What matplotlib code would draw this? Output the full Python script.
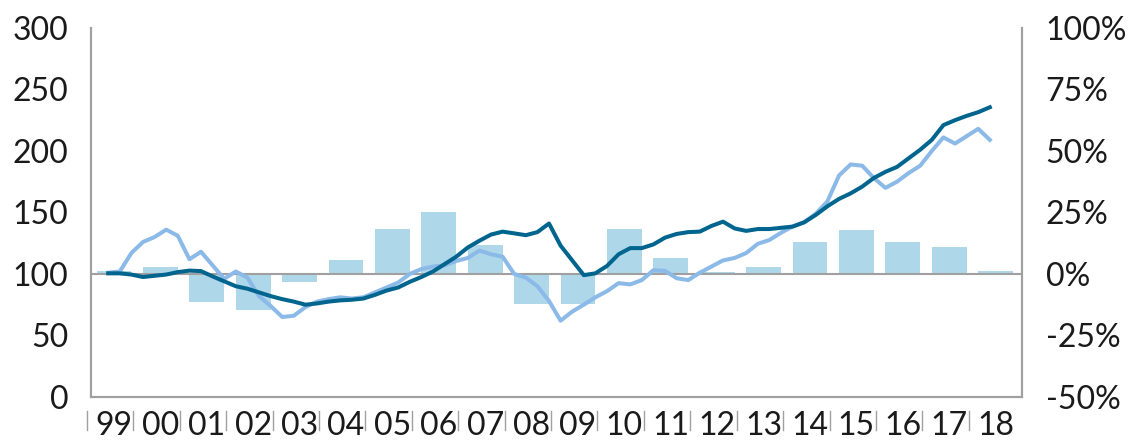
import pandas as pd
import matplotlib
matplotlib.use('Agg')
import matplotlib.pyplot as plt
import matplotlib.transforms as mtransforms
from matplotlib.ticker import FuncFormatter

plt.rcParams['font.family'] = ['Lato', 'DejaVu Sans']

# annual change (%), right axis
years = list(range(1999, 2019))
year_labels = ['99', '00', '01', '02', '03', '04', '05', '06', '07', '08',
               '09', '10', '11', '12', '13', '14', '15', '16', '17', '18']
annual_pct = [1.2, 3, -11.5, -14.5, -3.3, 5.7, 18.3, 25.2, 11.8, -12.2,
              -12.2, 18.3, 6.5, 0.8, 3, 13, 18, 13, 11, 1.2]

# quarterly index values, left axis (1999Q2 .. 2018Q2)
quarters = pd.period_range('1999Q2', '2018Q2', freq='Q')
dark_index = [100.5, 100.5, 99.5, 97.5, 98.5, 99.5, 101.5, 102.7, 102.3, 98,
              94, 90, 88, 85, 82, 79.5, 77.5, 75, 76, 77.5,
              78.5, 79, 80, 83, 86.5, 89, 93.6, 97.5, 102, 108,
              114, 121.5, 127, 132, 134.4, 133, 131.5, 134, 141, 123,
              111, 99, 100.5, 106.5, 116, 121, 121, 124, 129.5, 132.5,
              134, 134.4, 139, 142.5, 137, 135, 136.5, 136.5, 137.5, 138.5,
              142, 148, 155, 161, 165.5, 171, 178, 183, 187, 194,
              201, 209, 221, 225, 228.5, 231.5, 235.5]
light_index = [101, 102, 117, 126, 130, 136, 131, 112, 118, 107,
               96, 102, 97, 82, 74, 65, 66, 73, 77.5, 79.5,
               81, 80, 81, 85, 89, 93, 100, 104, 106, 107,
               110.5, 113, 119, 116, 114, 100, 97, 90, 78, 62,
               69.4, 75, 81, 86, 92.5, 91.5, 95, 103, 102.5, 96.5,
               95, 101, 106, 111, 113, 117, 124.5, 127.6, 133.5, 138.5,
               142, 149, 159, 180, 189, 188, 178, 170, 175, 182,
               188, 200, 211, 206, 212, 218, 209]

dates = [q.year + (q.quarter - 1) / 4 + 0.125 for q in quarters]

dark_col = '#00658E'
light_col = '#8CBAE8'
bar_col = '#AED8EA'
axis_col = '#A0A0A0'

fig = plt.figure(figsize=(11.35, 4.47), dpi=100)
ax = fig.add_axes([0.080, 0.112, 0.8205, 0.8255])
ax2 = ax.twinx()
ax.set_zorder(ax2.get_zorder() + 1)
ax.patch.set_visible(False)

# bars on the percent axis
ax2.bar([y + 0.5 for y in years], annual_pct, width=0.75, color=bar_col, zorder=1)
ax2.set_ylim(-50, 100)
ax2.set_yticks([-50, -25, 0, 25, 50, 75, 100])
ax2.yaxis.set_major_formatter(FuncFormatter(lambda v, p: f'{v:.0f}%'))

# index lines
ax.axhline(100, color=axis_col, lw=1.5, zorder=1)
ax.plot(dates, light_index, color=light_col, lw=2.9, zorder=2)
ax.plot(dates, dark_index, color=dark_col, lw=2.9, zorder=3)
ax.set_ylim(0, 300)
ax.set_yticks(range(0, 301, 50))
ax.set_xlim(1999, 2019.07)
ax.set_xticks([y + 0.5 for y in years])
ax.set_xticklabels(year_labels)

for a in (ax, ax2):
    a.spines['top'].set_visible(False)
    for s in ('left', 'right', 'bottom'):
        a.spines[s].set_color(axis_col)
        a.spines[s].set_linewidth(1.5)

ax.tick_params(axis='y', length=0, pad=16, labelsize=23, labelcolor='#1a1a1a')
ax.tick_params(axis='x', length=0, pad=10, labelsize=23, labelcolor='#1a1a1a')
ax2.tick_params(axis='y', length=0, pad=17, labelsize=23, labelcolor='#1a1a1a')

# small separators between year labels
trans = mtransforms.blended_transform_factory(ax.transData, ax.transAxes)
for y in years:
    ax.plot([y - 0.08, y - 0.08], [-0.038, -0.09], color=axis_col, lw=1,
            transform=trans, clip_on=False)

fig.savefig('out.png', dpi=100)
